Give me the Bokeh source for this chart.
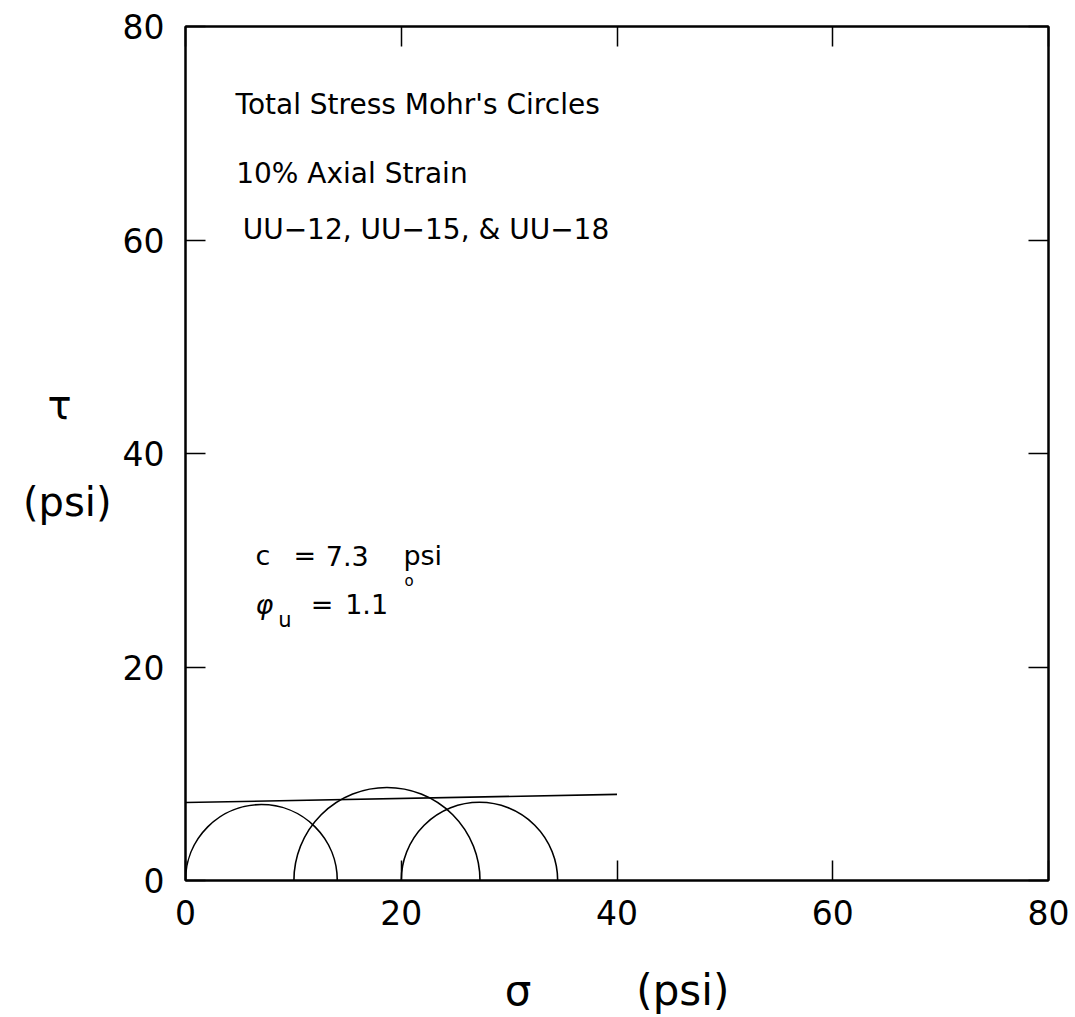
import numpy as np
from bokeh.plotting import figure
from bokeh.models import Label, LinearAxis, FixedTicker, Range1d, ColumnDataSource
from bokeh.embed import file_html
from bokeh.resources import INLINE

# Data
tests = ["UU-12", "UU-15", "UU-18"]
sigma3 = [0.0, 10.05, 20.0]      # minor principal stress (psi)
sigma1 = [14.07, 27.3, 34.5]     # major principal stress (psi)
cohesion = 7.3                   # psi
phi_u = 1.1                      # degrees
envelope_sigma = [0.0, 40.0]     # extent of failure envelope (psi)
ticks = [0, 20, 40, 60, 80]

FONT = "DejaVu Sans"

centers = [(a + b) / 2 for a, b in zip(sigma3, sigma1)]
radii = [(b - a) / 2 for a, b in zip(sigma3, sigma1)]
env_tau = [cohesion + s * np.tan(np.radians(phi_u)) for s in envelope_sigma]

p = figure(width=1075, height=1017, output_backend="svg", toolbar_location=None,
           x_range=Range1d(0, 80), y_range=Range1d(0, 80),
           x_axis_location=None, y_axis_location=None,
           min_border_left=185, min_border_right=27, min_border_top=26, min_border_bottom=137)
p.grid.visible = False
p.outline_line_color = "black"
p.outline_line_width = 2
p.background_fill_color = "white"
p.border_fill_color = "white"

def make_axis(show_labels):
    ax = LinearAxis(ticker=FixedTicker(ticks=ticks))
    ax.major_tick_in = 20
    ax.major_tick_out = 0
    ax.minor_tick_line_color = None
    ax.axis_line_color = "black"
    ax.axis_line_width = 2
    ax.major_tick_line_width = 1.5
    ax.major_tick_line_color = "black"
    ax.major_label_text_font = FONT
    ax.major_label_text_color = "black"
    ax.axis_label_text_font = FONT
    ax.axis_label_text_font_style = "normal"
    ax.axis_label_text_color = "black"
    if show_labels:
        ax.major_label_text_font_size = "33px"
    else:
        ax.major_label_text_font_size = "1px"
        ax.major_label_text_color = None
        ax.major_label_standoff = 0
    return ax

left = make_axis(True)
left.major_label_standoff = 21
left.axis_label = "\u03c4\u2003\n\n(psi)"
left.axis_label_orientation = "horizontal"
left.axis_label_text_font_size = "40px"
left.axis_label_standoff = 8
left.axis_label_text_line_height = 1.05

bottom = make_axis(True)
bottom.major_label_standoff = 19
bottom.axis_label = "\u03c3\u2003\u2003\u2002(psi)"
bottom.axis_label_text_font_size = "42px"
bottom.axis_label_standoff = 38

right = make_axis(False)
top = make_axis(False)
p.add_layout(left, "left")
p.add_layout(bottom, "below")
p.add_layout(right, "right")
p.add_layout(top, "above")

src = ColumnDataSource(dict(x=centers, r=radii, test=tests))
p.arc(x="x", y=0, radius="r", start_angle=0, end_angle=np.pi, source=src,
      line_color="black", line_width=1.6)
p.line(envelope_sigma, env_tau, line_color="black", line_width=1.6)

def lab(x, y, text, size, align="left", baseline="alphabetic", style="normal"):
    p.add_layout(Label(x=x, y=y, text=text, text_font=FONT, text_font_size=size,
                       text_align=align, text_baseline=baseline, text_color="black",
                       text_font_style=style))

lab(4.64, 72.7, "Total Stress Mohr's Circles", "28px")
lab(4.7, 66.2, "10% Axial Strain", "28px")
lab(5.3, 61.0, "UU\u221212, UU\u221215, & UU\u221218", "28px")

# c = 7.3 psi
lab(6.5, 30.4, "c", "27px")
lab(10.0, 30.4, "=", "27px")
lab(13.0, 30.4, "7.3", "27px")
lab(20.2, 30.4, "psi", "27px")
# phi_u = 1.1 deg
lab(6.5, 25.9, "\u03c6", "27px", style="italic")
lab(8.6, 24.4, "u", "21px")
lab(11.6, 25.9, "=", "27px")
lab(14.8, 25.9, "1.1", "27px")
lab(20.3, 28.9, "o", "15px", baseline="top")

open("out.html", "w").write(file_html(p, INLINE))
